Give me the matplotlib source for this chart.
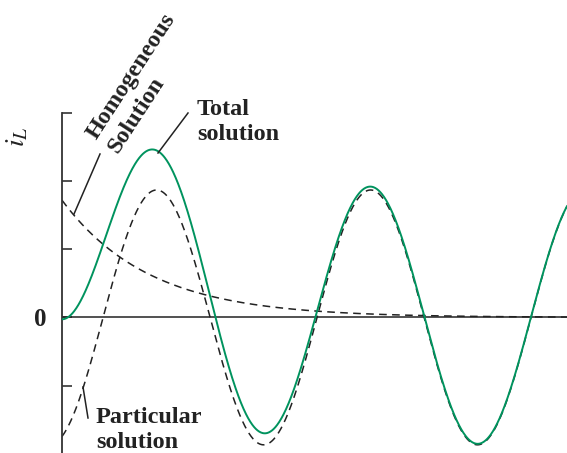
import numpy as np
import matplotlib.pyplot as plt

# time axis in units of one forcing period
t_end = 2.36

# steady-state (particular) part: amplitude, period, first rising zero
part_amp = 1.87
part_period = 1.0
part_t0 = 0.192

# transient (homogeneous) part: starting value and time constant
hom_start = 1.72
hom_tau = 0.407

y_ticks = [-1, 0, 1, 2, 3]
y_ticklabels = ['', '0', '', '', '']

green = '#00935e'

t = np.linspace(0, t_end, 1200)
i_part = part_amp * np.sin(2 * np.pi * (t - part_t0) / part_period)
i_hom = hom_start * np.exp(-t / hom_tau)
i_total = i_part + i_hom

plt.rcParams['font.family'] = 'Liberation Serif'
plt.rcParams['mathtext.fontset'] = 'stix'

fig = plt.figure(figsize=(5.67, 4.53), dpi=100)
ax = fig.add_axes([62 / 567, 0, 1 - 62 / 567, 1 - 113 / 453])

ax.axhline(0, color='#333333', lw=1.2, zorder=1)
ax.plot(t, i_hom, color='#222222', lw=1.1, dashes=(5, 3.5), zorder=2)
ax.plot(t, i_part, color='#222222', lw=1.1, dashes=(5, 3.5), zorder=2)
ax.plot(t, i_total, color=green, lw=1.4, zorder=3)

ax.set_xlim(0, t_end)
ax.set_ylim(-1.99, 3)
ax.set_xticks([])
ax.set_yticks(y_ticks)
ax.set_yticklabels(y_ticklabels, fontsize=18, fontweight='bold')
ax.tick_params(axis='y', direction='in', length=7, width=1.1, pad=11, colors='#222222')
for side in ['top', 'right', 'bottom']:
    ax.spines[side].set_visible(False)
ax.spines['left'].set_linewidth(1.3)
ax.spines['left'].set_color('#333333')

# leader lines and labels (figure pixel coordinates)
def px(x, y):
    return x / 567, 1 - y / 453

fig.text(*px(18, 137), '$i_L$', fontsize=20, rotation=90,
         ha='center', va='center', color='#222222')

def leader(p0, p1):
    fig.add_artist(plt.Line2D([px(*p0)[0], px(*p1)[0]], [px(*p0)[1], px(*p1)[1]],
                              color='#222222', lw=1.1))

leader((74, 214), (100, 154))
leader((158, 153), (188, 113))
leader((83, 387), (88, 418))

fig.text(*px(197, 122), 'Total\nsolution', fontsize=17.5, fontweight='bold',
         ha='left', va='center', linespacing=1.25, color='#222222')
fig.text(*px(96, 430), 'Particular\nsolution', fontsize=17.5, fontweight='bold',
         ha='left', va='center', linespacing=1.25, color='#222222')
fig.text(*px(142, 83), 'Homogeneous\nSolution', fontsize=17.5, fontweight='bold',
         ha='center', va='center', ma='left', rotation=57, rotation_mode='anchor',
         linespacing=1.3, color='#222222')

fig.savefig('out.png', dpi=100)
